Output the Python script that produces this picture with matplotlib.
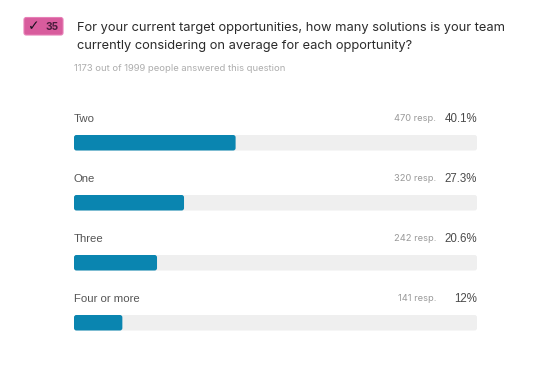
# survey question result card, one horizontal bar per answer
import matplotlib
matplotlib.use('Agg')
import matplotlib.pyplot as plt
from matplotlib.patches import FancyBboxPatch

plt.rcParams['font.family'] = ['Inter', 'DejaVu Sans']

labels = ['Two', 'One', 'Three', 'Four or more']
responses = [470, 320, 242, 141]
percents = [40.1, 27.3, 20.6, 12]
percent_text = ['40.1%', '27.3%', '20.6%', '12%']

question = ['For your current target opportunities, how many solutions is your team',
            'currently considering on average for each opportunity?']
answered = '1173 out of 1999 people answered this question'
badge_number = '35'

W, H = 550, 373
BLUE = '#0a85b0'
TRACK = '#efefef'

fig = plt.figure(figsize=(W / 100, H / 100), dpi=100, facecolor='white')


# pixel helpers, y counted from the top like in the screenshot
def px(x):
    return x / W


def py(y):
    return 1 - y / H


# axes: 0-100 % maps to x 74..477, rows are 60 px apart
ax = fig.add_axes([px(74), py(352.75), 403 / W, 240 / H])
ax.set_xlim(0, 100)
ax.set_ylim(3.5, -0.5)
ax.axis('off')

bar_h = 15.5 / 60
aspect = 4.03 / 60


def rounded_bar(row, value, color, z):
    p = FancyBboxPatch((0, row - bar_h / 2), value, bar_h,
                       boxstyle='round,pad=0,rounding_size=0.6',
                       mutation_aspect=aspect, facecolor=color,
                       edgecolor='none', zorder=z)
    ax.add_patch(p)


for i in range(len(labels)):
    rounded_bar(i, 100, TRACK, 1)
    rounded_bar(i, percents[i], BLUE, 2)

    y = 118.5 + i * 60
    fig.text(px(74), py(y), labels[i], fontsize=8.2, color='#555555', va='center', ha='left',
             family='Liberation Sans')
    fig.text(px(477), py(y), percent_text[i], fontsize=8.3, color='#4a4a4a', va='center', ha='right',
             family='Liberation Sans')
    # resp. text sits left of the percent column
    fig.text(px(436), py(y), f'{responses[i]} resp.', fontsize=6.7, color='#9a9a9a', va='center', ha='right')

# question text
fig.text(px(77), py(27.5), question[0], fontsize=9.25, color='#2b2b2b', va='center', ha='left')
fig.text(px(77), py(46.5), question[1], fontsize=9.25, color='#2b2b2b', va='center', ha='left')
fig.text(px(74), py(68.5), answered, fontsize=6.8, color='#adadad', va='center', ha='left')

# pink badge
badge = FancyBboxPatch((px(24), py(35)), 39 / W, 17.5 / H, transform=fig.transFigure,
                       boxstyle='round,pad=0,rounding_size=0.004', mutation_aspect=W / H,
                       facecolor='#d85c9d', edgecolor='#e77fb6', linewidth=0.8)
fig.add_artist(badge)
fig.text(px(33.5), py(26), '\u2713', fontsize=10, color='#1c1020', va='center', ha='center',
         family='DejaVu Sans', fontweight='bold')
fig.text(px(52), py(26.5), badge_number, fontsize=7.3, color='#4a1c3c', va='center', ha='center', fontweight='bold')

fig.savefig('out.png', dpi=100)
